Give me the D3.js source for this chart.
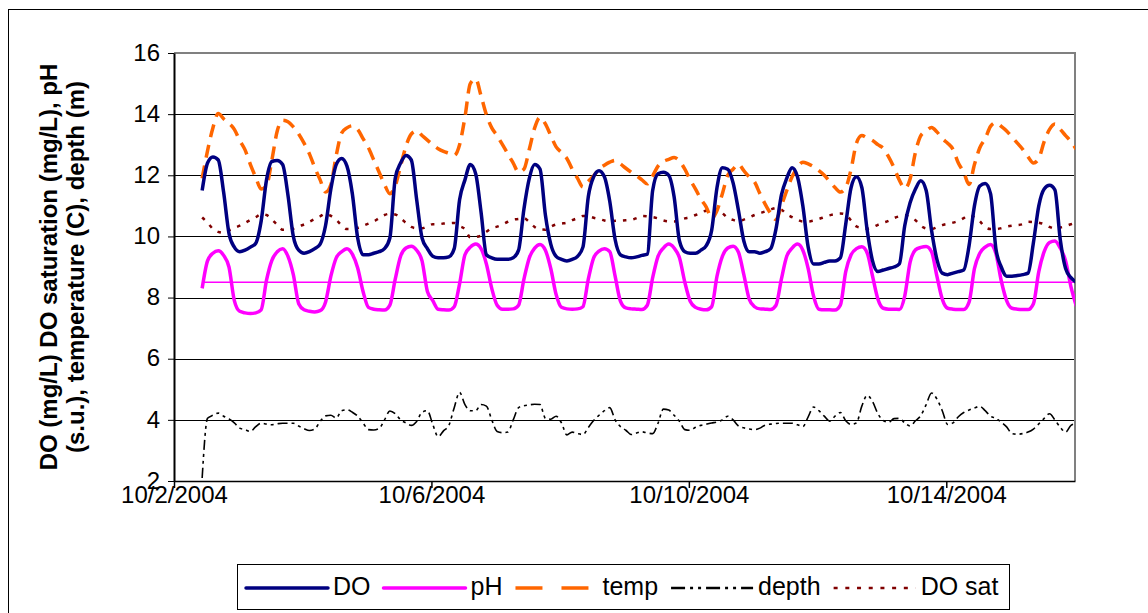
<!DOCTYPE html>
<html>
<head>
<meta charset="utf-8">
<script src="https://cdn.jsdelivr.net/npm/d3@7"></script>
<style>
  body { margin: 0; background: #fff; }
  text { font-family: Arial, "Liberation Sans", sans-serif; }
</style>
</head>
<body>
<div id="chart"></div>
<script>
// readings every 2 hours, first one at 10/2/2004 10:30
const startTime = new Date(2004, 9, 2, 10, 30);
const stepHours = 2;

const xTickLabels = ["10/2/2004", "10/6/2004", "10/10/2004", "10/14/2004"];
const yTickValues = [2, 4, 6, 8, 10, 12, 14, 16];
const seriesNames = ["DO", "pH", "temp", "depth", "DO sat"];
const phLimit = 8.5;

const doValues = [
  11.5, 12.4, 12.6, 12.5, 11.45, 10.1, 9.65,
  9.5, 9.55, 9.65, 9.78, 10.5, 11.85, 12.45, 12.48, 12.35, 11.35, 10.0, 9.55,
  9.45, 9.5, 9.6, 9.75, 10.35, 11.55, 12.35, 12.55, 12.3, 11.4, 9.95, 9.4,
  9.4, 9.45, 9.5, 9.6, 9.95, 11.9, 12.4, 12.65, 12.5, 11.2, 9.95, 9.6,
  9.35, 9.3, 9.3, 9.33, 9.6, 11.2, 11.85, 12.35, 12.05, 10.8, 9.4, 9.3,
  9.25, 9.25, 9.25, 9.3, 9.55, 10.9, 11.9, 12.35, 12.2, 10.7, 9.75, 9.35,
  9.25, 9.2, 9.25, 9.35, 9.65, 11.3, 11.95, 12.15, 11.95, 11.15, 9.9, 9.4,
  9.33, 9.3, 9.33, 9.38, 9.42, 11.5, 12.05, 12.1, 12.0, 11.3, 9.85, 9.5,
  9.45, 9.45, 9.55, 9.7, 10.2, 11.6, 12.25, 12.2, 11.75, 10.85, 9.85, 9.5,
  9.5, 9.45, 9.5, 9.6, 10.25, 11.35, 11.9, 12.25, 11.95, 11.0, 9.65, 9.1,
  9.1, 9.15, 9.2, 9.2, 9.3, 10.4, 11.6, 11.95, 11.6, 10.2, 9.2, 8.85,
  8.9, 8.95, 9.0, 9.1, 10.35, 11.1, 11.55, 11.82, 11.5, 10.2, 9.25, 8.8,
  8.75, 8.8, 8.85, 8.9, 9.7, 11.0, 11.65, 11.73, 11.4, 9.6, 9.0, 8.7,
  8.7, 8.72, 8.75, 8.8, 9.8, 11.0, 11.55, 11.67, 11.52, 9.9, 8.95, 8.65,
  8.5
];

const phValues = [
  8.3, 9.2, 9.45, 9.53, 9.38, 9.0, 7.9,
  7.55, 7.5, 7.48, 7.5, 7.6, 8.57, 9.22, 9.5, 9.6, 9.35, 8.75, 7.8,
  7.6, 7.55, 7.53, 7.57, 7.85, 8.7, 9.3, 9.5, 9.6, 9.42, 8.97, 8.2,
  7.68, 7.62, 7.6, 7.59, 7.75, 8.6, 9.35, 9.62, 9.68, 9.55, 9.2, 8.2,
  7.9, 7.62, 7.6, 7.59, 7.7, 8.45, 9.4, 9.65, 9.75, 9.6, 9.1, 8.3,
  7.75, 7.62, 7.62, 7.63, 7.75, 8.6, 9.3, 9.62, 9.74, 9.55, 8.95, 8.1,
  7.68, 7.63, 7.62, 7.63, 7.7, 8.6, 9.3, 9.52, 9.6, 9.5, 8.7, 7.88,
  7.66, 7.63, 7.62, 7.61, 7.75, 8.65, 9.35, 9.62, 9.75, 9.62, 9.3, 8.5,
  7.88, 7.68, 7.62, 7.6, 7.7, 8.7, 9.35, 9.62, 9.68, 9.48, 8.75, 7.95,
  7.7, 7.63, 7.62, 7.61, 7.75, 8.6, 9.35, 9.62, 9.75, 9.55, 8.95, 8.05,
  7.62, 7.6, 7.6, 7.59, 7.75, 8.85, 9.4, 9.6, 9.66, 9.46, 8.7, 7.95,
  7.65, 7.62, 7.62, 7.61, 8.05, 9.15, 9.56, 9.64, 9.67, 9.5, 8.7, 7.95,
  7.65, 7.62, 7.61, 7.61, 7.85, 8.95, 9.45, 9.65, 9.74, 9.44, 8.55, 7.9,
  7.65, 7.62, 7.61, 7.61, 7.8, 8.85, 9.5, 9.8, 9.85, 9.62, 9.2, 8.35,
  7.72
];

const tempValues = [
  11.9, 12.8, 13.55, 14.02, 13.85, 13.7, 13.5,
  13.14, 12.83, 12.35, 11.93, 11.55, 11.66, 12.5, 13.45, 13.8, 13.75, 13.58, 13.35,
  13.05, 12.7, 12.25, 11.85, 11.45, 11.7, 12.65, 13.38, 13.55, 13.62, 13.5, 13.2,
  12.9, 12.5, 12.1, 11.7, 11.4, 11.65, 12.3, 12.95, 13.35, 13.45, 13.3, 13.15,
  13.0, 12.87, 12.78, 12.72, 12.65, 13.0, 13.9, 15.0, 15.15, 14.6, 13.98, 13.55,
  13.3, 13.0, 12.7, 12.4, 12.1, 12.2, 12.85, 13.55, 13.9, 13.68, 13.3, 12.93,
  12.75, 12.55, 12.2, 11.9, 11.62, 11.8, 11.98, 12.2, 12.33, 12.43, 12.49, 12.37,
  12.23, 12.1, 11.98, 11.85, 11.72, 11.98, 12.3, 12.45, 12.52, 12.58, 12.47, 12.2,
  11.85, 11.55, 11.22, 10.96, 10.6, 10.85, 11.4, 12.0, 12.2, 12.36, 12.15, 11.95,
  11.78, 11.4, 11.05, 10.75, 10.55, 11.0, 11.5, 11.95, 12.25, 12.43, 12.37, 12.28,
  12.15, 12.0, 11.8, 11.6, 11.45, 11.6, 12.2, 13.05, 13.3, 13.22, 13.14, 13.0,
  12.88, 12.6, 12.25, 11.84, 11.57, 11.88, 12.75, 13.3, 13.45, 13.56, 13.42, 13.2,
  13.05, 12.85, 12.4, 12.1, 11.7, 12.35, 12.9, 13.2, 13.6, 13.72, 13.6, 13.45,
  13.25, 13.05, 12.85, 12.6, 12.4, 12.55, 13.1, 13.5, 13.68, 13.5, 13.3, 13.1,
  12.85
];

const depthValues = [
  2.1, 4.05, 4.15, 4.22, 4.12, 4.03, 3.9,
  3.73, 3.68, 3.62, 3.78, 3.89, 3.86, 3.84, 3.87, 3.89, 3.89, 3.89, 3.8,
  3.71, 3.65, 3.7, 3.95, 4.13, 4.15, 4.06, 4.3, 4.33, 4.25, 4.12, 3.9,
  3.68, 3.67, 3.72, 4.0, 4.29, 4.2, 4.0, 3.9, 3.82, 3.95, 4.25, 4.3,
  3.85, 3.45, 3.64, 3.82, 4.4, 4.9, 4.5, 4.3, 4.3, 4.5, 4.45, 4.0,
  3.62, 3.58, 3.6, 4.0, 4.4, 4.46, 4.49, 4.51, 4.5, 4.05, 4.02, 4.12,
  3.9, 3.51, 3.6, 3.55, 3.52, 3.75, 3.98, 4.15, 4.3, 4.4, 4.0, 3.78,
  3.66, 3.52, 3.57, 3.61, 3.57, 3.55, 3.89, 4.35, 4.32, 4.15, 3.95, 3.68,
  3.66, 3.76, 3.82, 3.86, 3.9, 3.93, 4.0, 4.12, 4.0, 3.8, 3.74, 3.7,
  3.68, 3.73, 3.83, 3.86, 3.88, 3.89, 3.89, 3.89, 3.84, 3.78, 4.1, 4.42,
  4.3, 4.12, 3.96, 4.12, 4.24, 3.97, 3.85, 3.9, 4.45, 4.8, 4.6, 4.2,
  3.98, 3.92, 4.04, 4.05, 3.9, 3.8, 3.97, 4.14, 4.5, 4.88, 4.68, 4.3,
  3.85, 3.9, 4.1, 4.24, 4.32, 4.39, 4.44, 4.3, 4.12, 4.05, 3.92, 3.77,
  3.55, 3.53, 3.55, 3.6, 3.7, 3.87, 4.05, 4.2, 4.0, 3.76, 3.6, 3.82,
  3.88
];

const doSatValues = [
  10.62, 10.45, 10.25, 10.15, 10.12, 10.2, 10.28,
  10.35, 10.44, 10.54, 10.63, 10.73, 10.7, 10.55, 10.38, 10.22, 10.22, 10.25, 10.33,
  10.39, 10.48, 10.57, 10.66, 10.75, 10.67, 10.54, 10.37, 10.24, 10.24, 10.28, 10.35,
  10.42, 10.49, 10.6, 10.7, 10.74, 10.72, 10.6, 10.44, 10.31, 10.27, 10.27, 10.33,
  10.4, 10.4, 10.42, 10.43, 10.44, 10.34, 10.24, 9.97, 9.98, 10.03, 10.15, 10.27,
  10.32, 10.39, 10.48, 10.55, 10.57, 10.6, 10.47, 10.31, 10.23, 10.22, 10.32, 10.39,
  10.42, 10.45, 10.53, 10.6, 10.67, 10.66, 10.61, 10.57, 10.52, 10.49, 10.51, 10.52,
  10.53, 10.54, 10.6, 10.67, 10.66, 10.63, 10.59, 10.52, 10.49, 10.49, 10.54, 10.59,
  10.63, 10.7, 10.77, 10.85, 10.88, 10.89, 10.76, 10.61, 10.54, 10.5, 10.55, 10.62,
  10.7, 10.76, 10.82, 10.88, 10.93, 10.88, 10.72, 10.63, 10.55, 10.49, 10.49, 10.52,
  10.57, 10.63, 10.69, 10.73, 10.75, 10.72, 10.52, 10.33, 10.28, 10.25, 10.3, 10.38,
  10.45, 10.51, 10.6, 10.66, 10.69, 10.63, 10.53, 10.35, 10.26, 10.24, 10.3, 10.37,
  10.41, 10.45, 10.51, 10.6, 10.7, 10.63, 10.5, 10.3, 10.24, 10.24, 10.27, 10.32,
  10.35, 10.37, 10.4, 10.48, 10.47, 10.45, 10.4, 10.31, 10.25, 10.29, 10.34, 10.4,
  10.45
];

// chart setup
const width = 1148, height = 613;
const plot = { left: 174, right: 1075, top: 53, bottom: 481 };

const parseDay = d3.timeParse("%m/%d/%Y");
const timeFor = i => new Date(+startTime + i * stepHours * 3600 * 1000);

const svg = d3.select("#chart").append("svg")
  .attr("width", width)
  .attr("height", height)
  .attr("viewBox", `0 0 ${width} ${height}`);

// outer chart border (runs off the right and bottom of the picture)
svg.append("rect")
  .attr("x", 8.5).attr("y", 9.5)
  .attr("width", 1200).attr("height", 700)
  .attr("fill", "#fff")
  .attr("stroke", "#000")
  .attr("stroke-width", 1);

const xScale = d3.scaleTime()
  .domain([new Date(2004, 9, 2), new Date(2004, 9, 16)])
  .range([plot.left, plot.right]);

const yScale = d3.scaleLinear()
  .domain([2, 16])
  .range([plot.bottom, plot.top]);

svg.append("defs").append("clipPath").attr("id", "plotClip")
  .append("rect")
  .attr("x", plot.left).attr("y", plot.top - 2)
  .attr("width", plot.right - plot.left).attr("height", plot.bottom - plot.top + 4);

// gridlines
svg.append("g")
  .selectAll("line")
  .data(yTickValues.filter(v => v > 2 && v < 16))
  .join("line")
  .attr("x1", plot.left).attr("x2", plot.right)
  .attr("y1", d => Math.round(yScale(d)) + 0.5)
  .attr("y2", d => Math.round(yScale(d)) + 0.5)
  .attr("stroke", "#000")
  .attr("stroke-width", 1);

// plot frame: gray at top and right
svg.append("path")
  .attr("d", `M${plot.left},${plot.top}H${plot.right}V${plot.bottom}`)
  .attr("fill", "none")
  .attr("stroke", "#808080")
  .attr("stroke-width", 2);

// axes
const xAxis = svg.append("g")
  .attr("transform", `translate(0,${plot.bottom})`)
  .call(d3.axisBottom(xScale)
    .tickValues(xTickLabels.map(parseDay))
    .tickFormat(d3.timeFormat("%-m/%-d/%Y"))
    .tickSize(7)
    .tickSizeOuter(0));
xAxis.select(".domain").attr("stroke", "#000").attr("stroke-width", 1.5);
xAxis.selectAll("line").attr("stroke", "#000").attr("stroke-width", 1.5);
xAxis.selectAll("text")
  .attr("y", 5)
  .attr("font-size", 24)
  .attr("fill", "#000");

const yAxis = svg.append("g")
  .attr("transform", `translate(${plot.left},0)`)
  .call(d3.axisLeft(yScale)
    .tickValues(yTickValues)
    .tickSize(6)
    .tickPadding(8)
    .tickSizeOuter(0));
yAxis.select(".domain").attr("stroke", "#000").attr("stroke-width", 2);
yAxis.selectAll("line").attr("stroke", "#000").attr("stroke-width", 1);
yAxis.selectAll("text")
  .attr("font-size", 24)
  .attr("dy", "0.3em")
  .attr("fill", "#000");

// y axis title
const title = svg.append("text")
  .attr("transform", `translate(0,${(plot.top + plot.bottom) / 2}) rotate(-90)`)
  .attr("text-anchor", "middle")
  .attr("font-size", 24)
  .attr("font-weight", "bold");
title.append("tspan").attr("x", 0).attr("y", 57).text("DO (mg/L) DO saturation (mg/L), pH");
title.append("tspan").attr("x", 0).attr("y", 84).text("(s.u.), temperature (C), depth (m)");

// series
const series = [
  { name: "DO", values: doValues, color: "#000080", width: 3.5, dash: null, legendDash: null },
  { name: "pH", values: phValues, color: "#FF00FF", width: 3.5, dash: null, legendDash: null },
  { name: "temp", values: tempValues, color: "#FF6600", width: 3.5, dash: "13,8", legendDash: "27,19" },
  { name: "depth", values: depthValues, color: "#000000", width: 1.6, dash: "10,4,3,4,3,4", legendDash: "14,5,3,5,3,5" },
  { name: "DO sat", values: doSatValues, color: "#800000", width: 2.5, dash: "3.5,7", legendDash: "4,7.7" }
];

const line = d3.line()
  .x((d, i) => xScale(timeFor(i)))
  .y(d => yScale(d))
  .curve(d3.curveMonotoneX);

const lines = svg.append("g").attr("clip-path", "url(#plotClip)");

// pH 8.5 reference line
lines.append("line")
  .attr("x1", xScale(timeFor(0)))
  .attr("x2", xScale(timeFor(phValues.length - 1)))
  .attr("y1", yScale(phLimit))
  .attr("y2", yScale(phLimit))
  .attr("stroke", "#FF00FF")
  .attr("stroke-width", 1.5);

// draw back to front so DO ends up on top
[3, 4, 2, 1, 0].forEach(k => {
  const s = series[k];
  lines.append("path")
    .datum(s.values)
    .attr("d", line)
    .attr("fill", "none")
    .attr("stroke", s.color)
    .attr("stroke-width", s.width)
    .attr("stroke-linejoin", "round")
    .attr("stroke-dasharray", s.dash);
});

// legend
const legend = svg.append("g");
legend.append("rect")
  .attr("x", 237.5).attr("y", 564.5)
  .attr("width", 772).attr("height", 45)
  .attr("fill", "#fff")
  .attr("stroke", "#000")
  .attr("stroke-width", 1);

let lx = 246;
const ly = 588;
series.forEach(s => {
  legend.append("line")
    .attr("x1", lx).attr("x2", lx + 82)
    .attr("y1", ly).attr("y2", ly)
    .attr("stroke", s.color)
    .attr("stroke-width", s.name === "depth" ? 2.5 : s.width)
    .attr("stroke-linecap", s.dash ? "butt" : "round")
    .attr("stroke-dasharray", s.legendDash);
  const t = legend.append("text")
    .attr("x", lx + 87)
    .attr("y", ly + 7)
    .attr("font-size", 25)
    .attr("fill", "#000")
    .text(s.name);
  lx += 87 + t.node().getComputedTextLength() + 13;
});
</script>
</body>
</html>
